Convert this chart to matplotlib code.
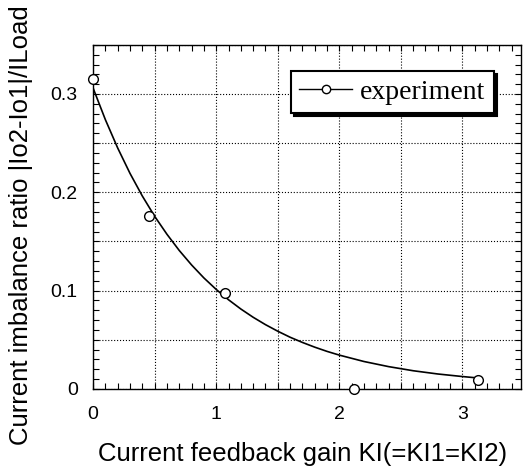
import matplotlib.pyplot as plt
import matplotlib.ticker as mticker

gain = [0.0, 0.457, 1.075, 2.12, 3.13]
ratio = [0.315, 0.176, 0.0975, 0.0, 0.0095]

# fitted curve as drawn in the picture (read points)
curve_x = [0.0, 0.1, 0.2, 0.3, 0.4, 0.5, 0.6, 0.7, 0.8, 0.9, 1.0, 1.1, 1.2, 1.3,
           1.4, 1.5, 1.6, 1.7, 1.8, 1.9, 2.0, 2.2, 2.4, 2.6, 2.8, 3.0, 3.13]
curve_y = [0.306, 0.2738, 0.245, 0.2192, 0.1962, 0.1756, 0.1573, 0.1408, 0.1261,
           0.1129, 0.1012, 0.0907, 0.0813, 0.0729, 0.0654, 0.0587, 0.0526, 0.0473,
           0.0425, 0.0382, 0.0344, 0.0279, 0.0227, 0.0185, 0.0152, 0.0126, 0.0111]

plt.rcParams['font.family'] = ['Liberation Sans', 'DejaVu Sans']

fig = plt.figure(figsize=(5.23, 4.72), dpi=100)
ax = fig.add_axes([0.178, 0.176, 0.818, 0.729])

ax.plot(curve_x, curve_y, color='black', lw=1.2)
ax.plot(gain, ratio, linestyle='none', marker='o', markersize=7,
        markerfacecolor='white', markeredgecolor='black', markeredgewidth=1.0,
        clip_on=False, zorder=5)

# legend handle: line with circle
ax.plot([], [], color='black', lw=1.0, marker='o', markersize=6,
        markerfacecolor='white', markeredgecolor='black', label='experiment')

ax.set_xlim(0, 3.475)
ax.set_ylim(0, 0.35)

ax.xaxis.set_major_locator(mticker.MultipleLocator(0.5))
ax.xaxis.set_minor_locator(mticker.MultipleLocator(0.1))
ax.yaxis.set_major_locator(mticker.MultipleLocator(0.05))
ax.yaxis.set_minor_locator(mticker.MultipleLocator(0.01))


def xfmt(v, pos):
    if abs(v - round(v)) < 1e-6:
        return '%d' % round(v)
    return ''


def yfmt(v, pos):
    k = round(v * 10)
    if abs(v * 10 - k) < 1e-6:
        return '0' if k == 0 else '%.1f' % v
    return ''


ax.xaxis.set_major_formatter(mticker.FuncFormatter(xfmt))
ax.yaxis.set_major_formatter(mticker.FuncFormatter(yfmt))

ax.tick_params(which='both', direction='in', top=True, right=True,
               length=4, width=0.8, labelsize=14)
ax.tick_params(axis='x', pad=12)
ax.tick_params(axis='y', pad=11)

ax.grid(True, which='major', color='black', linestyle=':', lw=0.8)
for s in ax.spines.values():
    s.set_linewidth(1.0)

ax.set_xlabel('Current feedback gain KI(=KI1=KI2)', fontsize=18.5)
ax.set_ylabel('Current imbalance ratio |Io2-Io1|/ILoad', fontsize=18.5)
ax.xaxis.set_label_coords(0.49, -0.155)
ax.yaxis.set_label_coords(-0.14, 0.475)

leg = ax.legend(loc='upper right', bbox_to_anchor=(0.937, 0.924),
                prop={'family': 'Liberation Serif', 'size': 20},
                fancybox=False, framealpha=1, edgecolor='black',
                shadow={'color': 'black', 'alpha': 1},
                handlelength=1.9, handletextpad=0.3, borderpad=0.3,
                borderaxespad=0)
leg.get_frame().set_linewidth(1.5)

fig.savefig('out.png', dpi=100)
